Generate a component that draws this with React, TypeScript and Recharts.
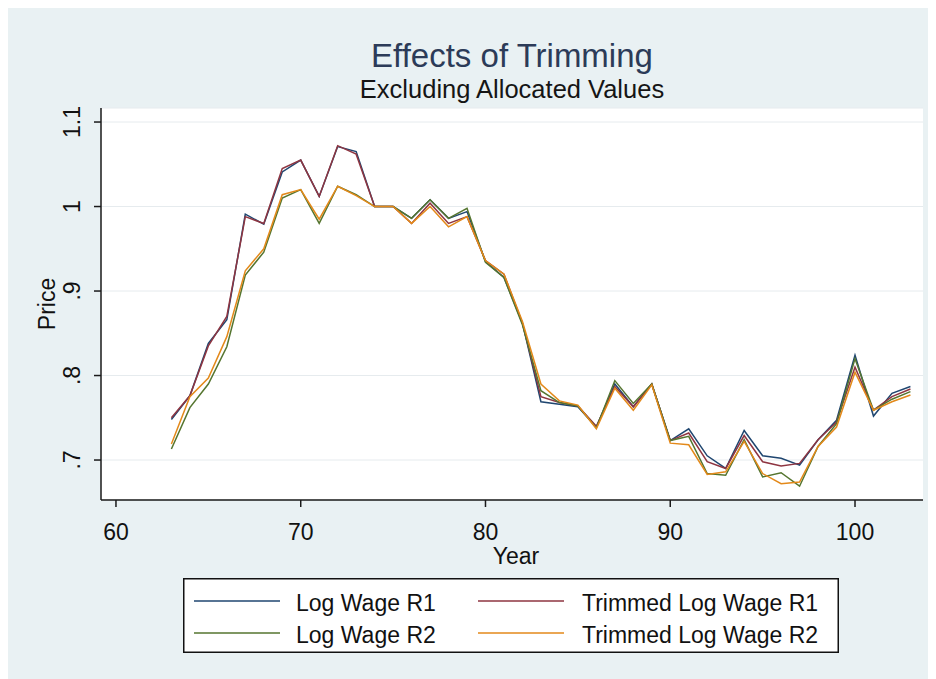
import { LineChart, Line, XAxis, YAxis, CartesianGrid, Legend } from 'recharts'

// years 63..103, values
const years = [
  63, 64, 65, 66, 67, 68, 69, 70, 71, 72, 73, 74, 75, 76, 77, 78, 79, 80, 81, 82, 83,
  84, 85, 86, 87, 88, 89, 90, 91, 92, 93, 94, 95, 96, 97, 98, 99, 100, 101, 102, 103,
]

const logWageR1 = [
  0.748, 0.776, 0.838, 0.866, 0.991, 0.979, 1.041, 1.055, 1.012, 1.071, 1.065, 1.0, 1.0, 0.986,
  1.008, 0.986, 0.994, 0.935, 0.916, 0.862, 0.769, 0.766, 0.763, 0.739, 0.79, 0.763, 0.79,
  0.723, 0.737, 0.705, 0.69, 0.735, 0.705, 0.702, 0.694, 0.724, 0.747, 0.824, 0.752, 0.779, 0.787,
]

const trimmedLogWageR1 = [
  0.75, 0.776, 0.835, 0.87, 0.988, 0.98, 1.045, 1.055, 1.012, 1.072, 1.062, 1.0, 1.0, 0.98,
  1.004, 0.98, 0.988, 0.936, 0.92, 0.862, 0.775, 0.768, 0.764, 0.74, 0.787, 0.763, 0.79,
  0.723, 0.732, 0.698, 0.69, 0.729, 0.698, 0.693, 0.696, 0.724, 0.745, 0.81, 0.759, 0.775, 0.784,
]

const logWageR2 = [
  0.713, 0.762, 0.79, 0.834, 0.919, 0.946, 1.01, 1.02, 0.98, 1.024, 1.014, 1.0, 1.0, 0.986,
  1.008, 0.986, 0.998, 0.934, 0.916, 0.86, 0.782, 0.768, 0.764, 0.738, 0.794, 0.767, 0.79,
  0.723, 0.728, 0.684, 0.682, 0.724, 0.68, 0.685, 0.669, 0.716, 0.743, 0.82, 0.759, 0.772, 0.781,
]

const trimmedLogWageR2 = [
  0.719, 0.775, 0.797, 0.846, 0.924, 0.95, 1.014, 1.02, 0.985, 1.024, 1.013, 1.0, 1.0, 0.98,
  1.0, 0.976, 0.988, 0.936, 0.92, 0.864, 0.79, 0.77, 0.765, 0.737, 0.785, 0.759, 0.789,
  0.72, 0.718, 0.683, 0.686, 0.722, 0.684, 0.672, 0.674, 0.716, 0.739, 0.804, 0.759, 0.769, 0.777,
]

const xTicks = [60, 70, 80, 90, 100]
const yTicks = [0.7, 0.8, 0.9, 1, 1.1]
const yTickLabels = ['.7', '.8', '.9', '1', '1.1']

const series = [
  { key: 'lw1', name: 'Log Wage R1', color: '#1f4670', values: logWageR1 },
  { key: 'tlw1', name: 'Trimmed Log Wage R1', color: '#8e3541', values: trimmedLogWageR1 },
  { key: 'lw2', name: 'Log Wage R2', color: '#55752f', values: logWageR2 },
  { key: 'tlw2', name: 'Trimmed Log Wage R2', color: '#e3891a', values: trimmedLogWageR2 },
]

const data = years.map((year, i) => {
  const row: Record<string, number> = { year }
  series.forEach(s => { row[s.key] = s.values[i] })
  return row
})

const FONT = "'Liberation Sans', Arial, Helvetica, sans-serif"
const AXIS = '#1a1a1a'

function XTick({ x, y, payload }: any) {
  return (
    <text x={x} y={y + 31} textAnchor="middle" fontSize={23} fontFamily={FONT} fill="#111">
      {payload.value}
    </text>
  )
}

function YTick({ x, y, payload }: any) {
  const i = yTicks.findIndex(t => Math.abs(t - payload.value) < 1e-6)
  const tx = x - 12
  return (
    <text x={tx} y={y} transform={`rotate(-90, ${tx}, ${y})`} textAnchor="middle"
      fontSize={23} fontFamily={FONT} fill="#111">
      {i >= 0 ? yTickLabels[i] : payload.value}
    </text>
  )
}

function LegendBox() {
  const cols = [
    { line: 11, text: 113 },
    { line: 295, text: 399 },
  ]
  const rows = [{ line: 23, text: 33 }, { line: 55, text: 65 }]
  return (
    <svg width={656} height={75} style={{ display: 'block' }}>
      <rect x={0.75} y={0.75} width={654.5} height={73.5} fill="#fff" stroke="#111" strokeWidth={1.5} />
      {series.map((s, i) => {
        const c = cols[i % 2]
        const r = rows[Math.floor(i / 2)]
        return (
          <g key={s.key}>
            <line x1={c.line} x2={c.line + 86} y1={r.line} y2={r.line} stroke={s.color} strokeWidth={1.5} />
            <text x={c.text} y={r.text} fontSize={23} fontFamily={FONT} fill="#111">{s.name}</text>
          </g>
        )
      })}
    </svg>
  )
}

export default function App() {
  return (
    <div style={{ width: 928, height: 671, background: '#e9f1f3', position: 'relative' }}>
      <LineChart width={928} height={671} data={data}
        margin={{ top: 100, right: 13, left: 0, bottom: 0 }}>
        <text x={504} y={59} textAnchor="middle" fontSize={33} fontFamily={FONT} fill="#2c3b58">
          Effects of Trimming
        </text>
        <text x={504} y={90} textAnchor="middle" fontSize={25.5} fontFamily={FONT} fill="#151515">
          Excluding Allocated Values
        </text>
        <CartesianGrid vertical={false} fill="#fff" fillOpacity={1} stroke="#e6ebee" strokeWidth={1} />
        <XAxis
          type="number"
          dataKey="year"
          domain={[59.19, 103.68]}
          ticks={xTicks}
          allowDataOverflow
          height={104}
          tickSize={7}
          tick={<XTick />}
          axisLine={{ stroke: AXIS, strokeWidth: 1.5 }}
          tickLine={{ stroke: AXIS, strokeWidth: 1.5 }}
          label={({ viewBox }: any) => (
            <text x={viewBox.x + viewBox.width / 2 + 4} y={viewBox.y + 64} textAnchor="middle"
              fontSize={23} fontFamily={FONT} fill="#111">Year</text>
          )}
        />
        <YAxis
          type="number"
          domain={[0.6527, 1.1166]}
          ticks={yTicks}
          allowDataOverflow
          width={93}
          tickSize={7}
          tick={<YTick />}
          axisLine={{ stroke: AXIS, strokeWidth: 1.5 }}
          tickLine={{ stroke: AXIS, strokeWidth: 1.5 }}
          label={({ viewBox }: any) => {
            const lx = viewBox.x + 47
            const ly = viewBox.y + viewBox.height / 2
            return (
              <text x={lx} y={ly} transform={`rotate(-90, ${lx}, ${ly})`} textAnchor="middle"
                fontSize={23} fontFamily={FONT} fill="#111">Price</text>
            )
          }}
        />
        {series.map(s => (
          <Line key={s.key} type="linear" dataKey={s.key} name={s.name} stroke={s.color}
            strokeWidth={1.5} dot={false} activeDot={false} isAnimationActive={false} />
        ))}
        <Legend
          verticalAlign="bottom"
          content={() => <LegendBox />}
          wrapperStyle={{ left: 175, top: 570, bottom: 'auto', width: 656, height: 75 }}
        />
      </LineChart>
    </div>
  )
}
